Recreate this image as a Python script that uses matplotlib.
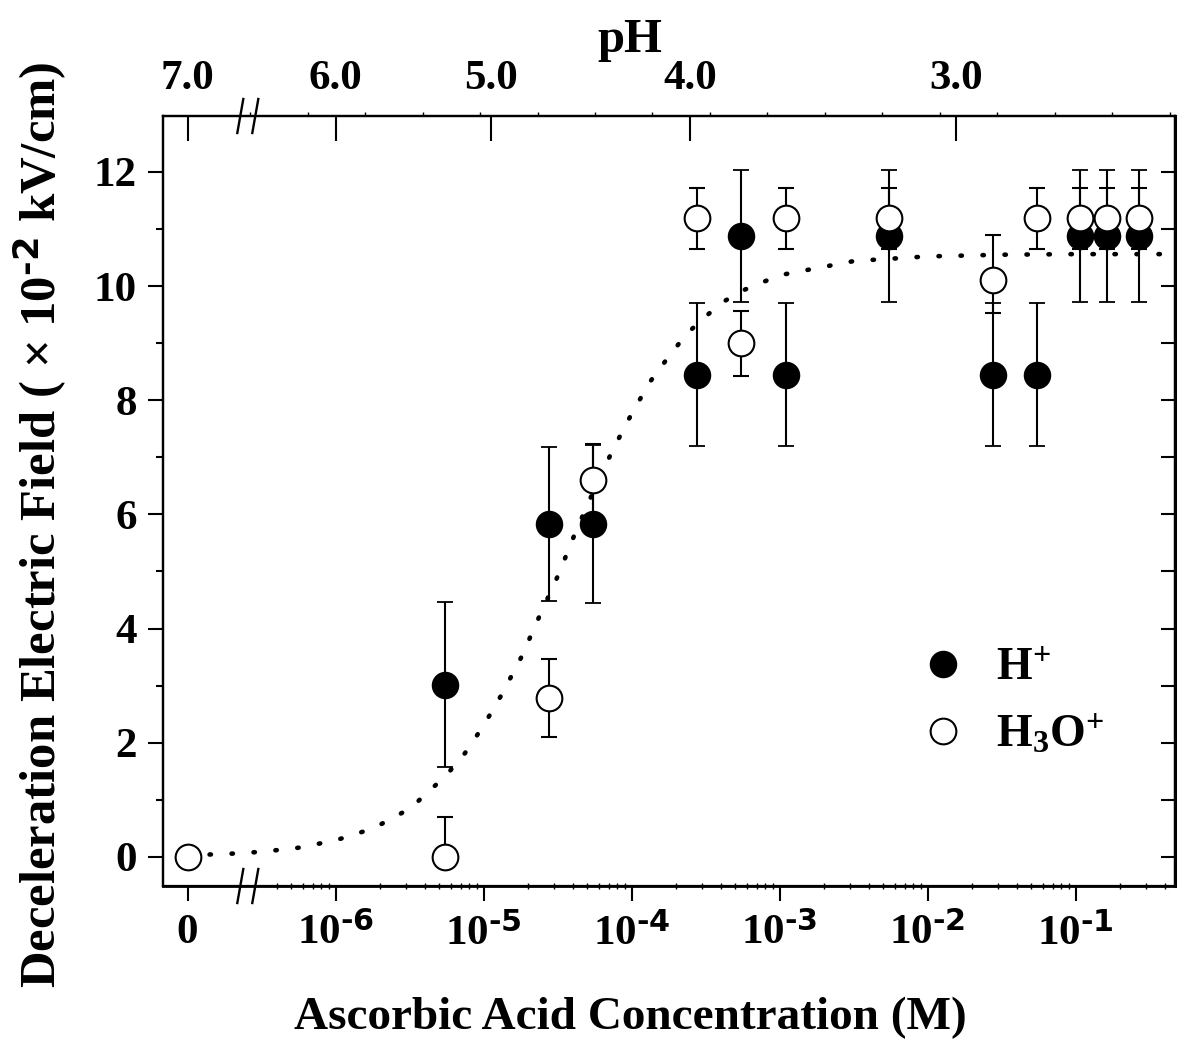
import numpy as np
import matplotlib
matplotlib.use('Agg')
import matplotlib.pyplot as plt
from matplotlib.lines import Line2D
from matplotlib.ticker import FixedLocator, FixedFormatter, NullFormatter, NullLocator
import matplotlib.transforms as mtransforms

plt.rcParams['font.family'] = ['Liberation Serif', 'DejaVu Serif']
plt.rcParams['font.weight'] = 'bold'
plt.rcParams['mathtext.default'] = 'regular'

# ---------------- data ----------------
conc_h = [5.5e-6, 2.75e-5, 5.5e-5, 2.75e-4, 5.5e-4, 1.1e-3, 5.5e-3,
          2.75e-2, 5.5e-2, 0.107, 0.163, 0.27]
field_h = [3.02, 5.83, 5.83, 8.45, 10.88, 8.45, 10.88, 8.45, 8.45,
           10.88, 10.88, 10.88]
err_h = [1.45, 1.35, 1.38, 1.26, 1.16, 1.26, 1.16, 1.26, 1.26,
         1.16, 1.16, 1.16]

conc_h3o = [0, 5.5e-6, 2.75e-5, 5.5e-5, 2.75e-4, 5.5e-4, 1.1e-3, 5.5e-3,
            2.75e-2, 5.5e-2, 0.107, 0.163, 0.27]
field_h3o = [0.0, 0.0, 2.78, 6.60, 11.20, 9.00, 11.20, 11.20, 10.10,
             11.20, 11.20, 11.20, 11.20]
err_h3o_lo = [0.0, 0.0, 0.68, 0.64, 0.55, 0.58, 0.55, 0.55, 0.57,
              0.55, 0.55, 0.55, 0.55]
err_h3o_hi = [0.0, 0.70, 0.68, 0.64, 0.52, 0.56, 0.52, 0.52, 0.80,
              0.52, 0.52, 0.52, 0.52]

# dotted fit curve
fit_conc = [1e-7, 1.8e-7, 3.2e-7, 5.6e-7, 1e-6, 1.8e-6, 3.2e-6, 5.6e-6,
            7.5e-6, 1e-5, 1.33e-5, 1.8e-5, 2.37e-5, 3.2e-5, 4.2e-5, 5.6e-5,
            7.5e-5, 1e-4, 1.33e-4, 1.8e-4, 2.37e-4, 3.2e-4, 4.2e-4, 5.6e-4,
            1e-3, 3.2e-3, 1e-2, 3.2e-2, 0.1, 0.47]
fit_field = [0.03, 0.05, 0.09, 0.16, 0.29, 0.50, 0.85, 1.43,
             1.82, 2.30, 2.85, 3.50, 4.20, 4.94, 5.70, 6.44,
             7.14, 7.76, 8.32, 8.78, 9.17, 9.48, 9.73, 9.92,
             10.19, 10.44, 10.52, 10.55, 10.56, 10.56]

x_tick_values = [0, 1e-6, 1e-5, 1e-4, 1e-3, 1e-2, 1e-1]
x_tick_labels = ['0', r'$10^{\text{-6}}$', r'$10^{\text{-5}}$',
                 r'$10^{\text{-4}}$', r'$10^{\text{-3}}$',
                 r'$10^{\text{-2}}$', r'$10^{\text{-1}}$']
ph_labels = ['7.0', '6.0', '5.0', '4.0', '3.0']
ph_conc = [0, 1.0e-6, 1.12e-5, 2.5e-4, 1.55e-2]
y_ticks = [0, 2, 4, 6, 8, 10, 12]

ZERO_POS = 1e-7      # 0 M is drawn left of the axis break
BREAK_POS = 10 ** -6.593


def pos(c):
    c = np.asarray(c, dtype=float)
    return np.where(c == 0, ZERO_POS, c)


W, H = 1182, 1049
fig = plt.figure(figsize=(W / 100, H / 100), dpi=100)
ax = fig.add_axes([163 / W, 1 - 886 / H, (1175 - 163) / W, (886 - 116) / H])
ax.set_xscale('log')
xlim = (10 ** -7.166, 10 ** -0.328)
ax.set_xlim(*xlim)
ax.set_ylim(-0.51, 12.98)

# fit curve
ax.plot(fit_conc, fit_field, color='k', lw=3.3, linestyle=(0, (0.3, 4.5)),
        dash_capstyle='round', zorder=2)

MS = 18.5
# H+ (filled)
ax.errorbar(pos(conc_h), field_h, yerr=err_h, fmt='o', ms=MS, mfc='k',
            mec='k', mew=1.3, ecolor='k', elinewidth=1.5, capsize=6,
            capthick=1.5, zorder=3)
# H3O+ (open)
ax.errorbar(pos(conc_h3o), field_h3o, yerr=[err_h3o_lo, err_h3o_hi], fmt='o',
            ms=MS, mfc='white', mec='k', mew=1.5, ecolor='k', elinewidth=1.5,
            capsize=6, capthick=1.5, zorder=4)

# bottom axis ticks
ax.xaxis.set_major_locator(FixedLocator(pos(x_tick_values)))
ax.xaxis.set_major_formatter(FixedFormatter(x_tick_labels))
minor_x = [m * 10.0 ** e for e in range(-7, 0) for m in range(2, 10)
           if 4e-7 <= m * 10.0 ** e <= xlim[1]]
ax.xaxis.set_minor_locator(FixedLocator(minor_x))
ax.xaxis.set_minor_formatter(NullFormatter())
ax.tick_params(axis='x', which='major', direction='out', length=11, width=1.5,
               pad=9, labelsize=31, top=False)
ax.tick_params(axis='x', which='minor', direction='inout', length=4, width=1,
               top=False)

# left axis ticks
ax.yaxis.set_major_locator(FixedLocator(y_ticks))
ax.yaxis.set_minor_locator(FixedLocator([1, 3, 5, 7, 9, 11]))
ax.tick_params(axis='y', which='major', direction='out', length=11, width=1.5,
               pad=8, labelsize=31, right=False)
ax.tick_params(axis='y', which='minor', direction='out', length=5, width=1.5,
               right=False)

# right axis (inward ticks, no labels)
sec = ax.secondary_yaxis('right')
sec.yaxis.set_major_locator(FixedLocator(list(range(0, 13))))
sec.yaxis.set_minor_locator(NullLocator())
sec.tick_params(axis='y', direction='in', length=10, width=1.5,
                labelright=False)
sec.spines['right'].set_linewidth(2.2)

# top pH axis
ax2 = ax.twiny()
ax2.set_xscale('log')
ax2.set_xlim(*xlim)
ax2.xaxis.set_major_locator(FixedLocator(pos(ph_conc)))
ax2.xaxis.set_major_formatter(FixedFormatter(ph_labels))
minor_top = [10 ** (-6.578 + 0.3885 * k) for k in range(17)]
ax2.xaxis.set_minor_locator(FixedLocator(minor_top))
ax2.xaxis.set_minor_formatter(NullFormatter())
ax2.tick_params(axis='x', which='major', direction='in', length=18, width=1.5,
                pad=13, labelsize=31)
ax2.tick_params(axis='x', which='minor', direction='out', length=3, width=1)

for a in (ax, ax2):
    for s in a.spines.values():
        s.set_linewidth(1.6)
ax.spines['bottom'].set_linewidth(2.0)

# axis break marks
def add_break(y_axes):
    xd = ax.transData.transform((BREAK_POS, 1.0))[0]
    yd = ax.transAxes.transform((0.0, y_axes))[1]
    for dx in (-7.5, 7.5):
        ln = Line2D([xd + dx - 3, xd + dx + 3], [yd - 17, yd + 17], color='k',
                    lw=1.7, transform=mtransforms.IdentityTransform())
        fig.add_artist(ln)

add_break(0.0)
add_break(1.0)

# legend
handles = [Line2D([], [], marker='o', ls='none', ms=MS, mfc='k', mec='k',
                  mew=1.3),
           Line2D([], [], marker='o', ls='none', ms=MS, mfc='white', mec='k',
                  mew=1.5)]
ax.legend(handles, [r'H$^{+}$', r'H$_{3}$O$^{+}$'], frameon=False,
          fontsize=33, handlelength=1.0, handletextpad=0.65, labelspacing=0.5,
          borderpad=0, borderaxespad=0, loc='upper left',
          bbox_to_anchor=(920 / W, 1 - 648 / H),
          bbox_transform=fig.transFigure)

# labels
fig.text(630 / W, 1 - 40 / H, 'pH', ha='center', va='center', fontsize=35)
fig.text(630 / W, 1 - 1018 / H, 'Ascorbic Acid Concentration (M)',
         ha='center', va='center', fontsize=34)
fig.text(40 / W, 1 - 525 / H,
         'Deceleration Electric Field ( \u00d7 10$^{\\text{-2}}$ kV/cm)',
         ha='center', va='center', rotation=90, fontsize=36.5)

fig.savefig('out.png', dpi=100)
